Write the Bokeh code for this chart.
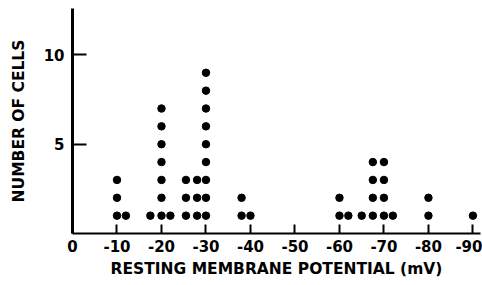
from bokeh.plotting import figure
from bokeh.models import Range1d, FixedTicker
from bokeh.embed import file_html
from bokeh.resources import INLINE

# Dot-plot columns: resting membrane potential (mV) and number of cells stacked
column_mv = [-10, -12, -17.5, -20, -22, -25.5, -28, -30, -38, -40,
             -60, -62, -65, -67.5, -70, -72, -80, -90]
column_count = [3, 1, 1, 7, 1, 3, 3, 9, 2, 1,
                2, 1, 1, 4, 4, 1, 2, 1]
x_ticks = [0, -10, -20, -30, -40, -50, -60, -70, -80, -90]
y_ticks = [5, 10]

xs, ys = [], []
for mv, n in zip(column_mv, column_count):
    for k in range(1, n + 1):
        xs.append(mv)
        ys.append(k)

FONT = "DejaVu Sans"

p = figure(width=482, height=285, output_backend="svg", toolbar_location=None,
           x_range=Range1d(0, -91.7), y_range=Range1d(0, 12.6),
           min_border_left=72, min_border_right=2, min_border_top=8, min_border_bottom=52)
p.outline_line_color = None
p.grid.visible = False
p.background_fill_color = "white"

p.scatter(xs, ys, size=7.5, color="black")

p.xaxis.ticker = FixedTicker(ticks=x_ticks)
p.xaxis.major_label_overrides = {t: str(t) for t in x_ticks}
p.yaxis.ticker = FixedTicker(ticks=y_ticks)

for ax in (p.xaxis, p.yaxis):
    ax.axis_line_color = "black"
    ax.major_tick_line_color = "black"
    ax.minor_tick_line_color = None
    ax.major_tick_out = 0
    ax.major_label_text_font = FONT
    ax.major_label_text_font_style = "bold"
    ax.major_label_text_font_size = "15px"
    ax.major_label_text_color = "black"
    ax.axis_label_text_font = FONT
    ax.axis_label_text_font_style = "bold"
    ax.axis_label_text_font_size = "15.5px"
    ax.axis_label_text_color = "black"

p.xaxis.axis_line_width = 2
p.yaxis.axis_line_width = 3
p.xaxis.major_tick_in = 9
p.xaxis.major_tick_line_width = 2
p.yaxis.major_tick_in = 14
p.yaxis.major_tick_line_width = 2
p.xaxis.major_label_standoff = 6
p.yaxis.major_label_standoff = 8
p.xaxis.axis_label = "RESTING MEMBRANE POTENTIAL (mV)"
p.yaxis.axis_label = "NUMBER OF CELLS"
p.xaxis.axis_label_standoff = 5
p.yaxis.axis_label_standoff = 13

open("out.html", "w").write(file_html(p, INLINE))
